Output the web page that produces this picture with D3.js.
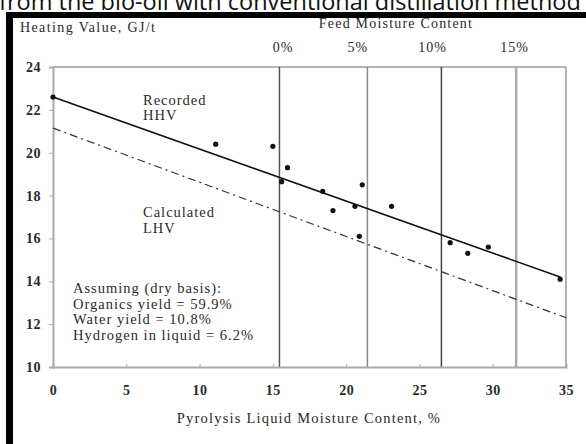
<!DOCTYPE html>
<html>
<head>
<meta charset="utf-8">
<script src="https://cdn.jsdelivr.net/npm/d3@7"></script>
<style>
  body { margin: 0; background: #fff; }
  svg { display: block; }
  .ser { font-family: "Liberation Serif", serif; fill: #2a2a2a; letter-spacing: 1px; }
</style>
</head>
<body>
<div id="chart"></div>
<script>
// liquid moisture content (%) vs heating value (GJ/t)
const pointsX = [0, 11.1, 15.0, 15.6, 16.0, 18.4, 19.1, 20.6, 20.9, 21.1, 23.1, 27.1, 28.3, 29.7, 34.6];
const pointsY = [22.6, 20.4, 20.3, 18.65, 19.3, 18.2, 17.3, 17.5, 16.1, 18.5, 17.5, 15.8, 15.3, 15.6, 14.1];

// trend lines, end points
const hhvX = [0, 34.6];
const hhvY = [22.6, 14.2];
const lhvX = [0, 35];
const lhvY = [21.15, 12.3];

// feed moisture content lines (top axis), label anchors in liquid-moisture units
const feedLabels = ['0%', '5%', '10%', '15%'];
const feedAt = [15.45, 21.45, 26.5, 31.6];
const feedLabelAt = [15.7, 20.8, 25.9, 31.5];

const xTicks = [0, 5, 10, 15, 20, 25, 30, 35];
const yTicks = [10, 12, 14, 16, 18, 20, 22, 24];

const notes = ['Assuming (dry basis):', 'Organics yield = 59.9%', 'Water yield = 10.8%', 'Hydrogen in liquid = 6.2%'];

const W = 586, H = 444;
const m = { top: 67, right: 20, bottom: 77, left: 53 };

const svg = d3.select('#chart').append('svg')
  .attr('width', W)
  .attr('height', H);

// caption fragment from page above (cut in the original too)
svg.append('text')
  .attr('x', -1).attr('y', 10)
  .attr('font-family', '"Open Sans", sans-serif')
  .attr('font-size', 23.5)
  .attr('fill', '#111')
  .text('from the bio-oil with conventional distillation method');

// black frame
svg.append('rect').attr('x', 6).attr('y', 12).attr('width', W - 6).attr('height', 6).attr('fill', '#000');
svg.append('rect').attr('x', 6).attr('y', 12).attr('width', 7).attr('height', H - 12).attr('fill', '#000');

const x = d3.scaleLinear().domain([0, 35]).range([m.left, W - m.right]);
const y = d3.scaleLinear().domain([10, 24]).range([H - m.bottom, m.top]);

// frame of plot
svg.append('line')
  .attr('x1', x(0)).attr('x2', x(35))
  .attr('y1', y(24)).attr('y2', y(24))
  .attr('stroke', '#9a9a9a').attr('stroke-width', 1.5);

// feed moisture verticals
const feedStroke = ['#555', '#8a8a8a', '#444', '#aaa'];
const feedWidth = [1.5, 1.5, 1.5, 2.5];
feedAt.forEach((v, i) => {
  svg.append('line')
    .attr('x1', x(v)).attr('x2', x(v))
    .attr('y1', y(24)).attr('y2', y(10))
    .attr('stroke', feedStroke[i]).attr('stroke-width', feedWidth[i]);
  svg.append('text')
    .attr('class', 'ser')
    .attr('x', x(feedLabelAt[i])).attr('y', 52)
    .attr('text-anchor', 'middle')
    .attr('font-size', 14)
    .text(feedLabels[i]);
});
svg.append('line')
  .attr('x1', x(35)).attr('x2', x(35))
  .attr('y1', y(24)).attr('y2', y(10))
  .attr('stroke', '#999').attr('stroke-width', 1.5);

svg.append('text')
  .attr('class', 'ser')
  .attr('x', 396).attr('y', 28)
  .attr('text-anchor', 'middle')
  .attr('font-size', 14)
  .style('letter-spacing', '1.2px')
  .text('Feed Moisture Content');

// axes
const gx = svg.append('g')
  .attr('transform', `translate(0,${y(10)})`)
  .call(d3.axisBottom(x).tickValues(xTicks).tickSize(-3).tickPadding(18));
const gy = svg.append('g')
  .attr('transform', `translate(${x(0)},0)`)
  .call(d3.axisLeft(y).tickValues(yTicks).tickSize(4).tickPadding(8));

[gx, gy].forEach(g => {
  g.select('.domain').attr('stroke', '#aaa').attr('stroke-width', 2);
  g.selectAll('.tick line').attr('stroke', '#aaa');
  g.selectAll('.tick text')
    .attr('font-family', '"Liberation Serif", serif')
    .attr('font-size', 14)
    .attr('font-weight', 'bold')
    .attr('fill', '#2a2a2a')
    .style('letter-spacing', '0.5px');
});

svg.append('text')
  .attr('class', 'ser')
  .attr('x', 20).attr('y', 32)
  .attr('font-size', 14)
  .style('letter-spacing', '1.4px')
  .text('Heating Value, GJ/t');

svg.append('text')
  .attr('class', 'ser')
  .attr('x', 309).attr('y', 423)
  .attr('text-anchor', 'middle')
  .attr('font-size', 14.5)
  .style('letter-spacing', '1.2px')
  .text('Pyrolysis Liquid Moisture Content, %');

// trend lines
const line = d3.line().x(d => x(d[0])).y(d => y(d[1]));
svg.append('path')
  .datum(d3.zip(hhvX, hhvY))
  .attr('d', line)
  .attr('fill', 'none')
  .attr('stroke', '#111')
  .attr('stroke-width', 1.6);
svg.append('path')
  .datum(d3.zip(lhvX, lhvY))
  .attr('d', line)
  .attr('fill', 'none')
  .attr('stroke', '#333')
  .attr('stroke-width', 1.2)
  .attr('stroke-dasharray', '8,4,2,4');

// points
svg.append('g')
  .selectAll('circle')
  .data(d3.zip(pointsX, pointsY))
  .join('circle')
  .attr('cx', d => x(d[0]))
  .attr('cy', d => y(d[1]))
  .attr('r', 2.6)
  .attr('fill', '#111');

// labels
const lab = (t, px, py) => svg.append('text').attr('class', 'ser')
  .attr('x', px).attr('y', py).attr('font-size', 14.5).text(t);
lab('Recorded', 143, 105);
lab('HHV', 143, 120);
lab('Calculated', 143, 217);
lab('LHV', 143, 233);

notes.forEach((t, i) => lab(t, 73, 293 + i * 15.5));
</script>
</body>
</html>
